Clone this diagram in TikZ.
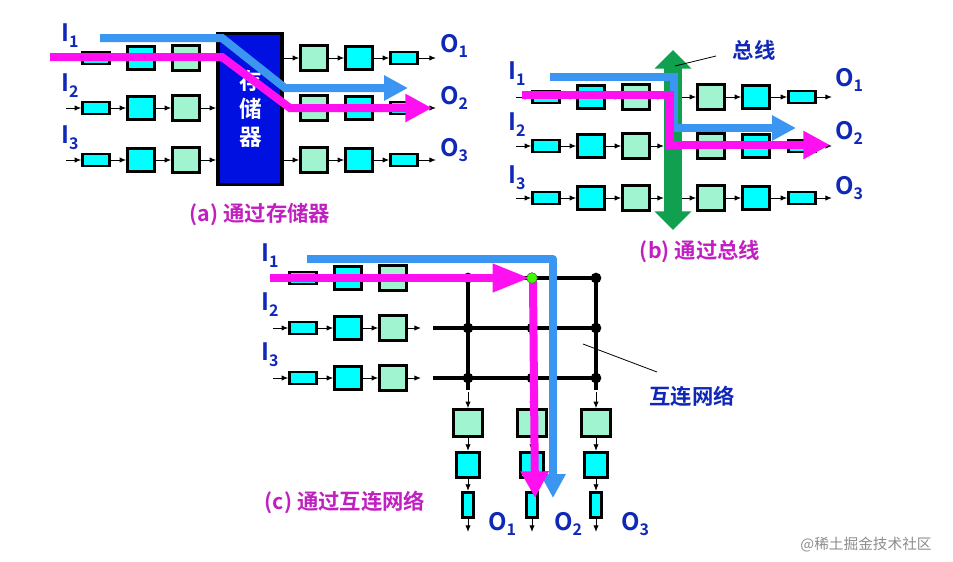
\documentclass[tikz,border=0pt]{standalone}
\usepackage{fontspec}
\setmainfont{Noto Sans CJK SC}[BoldFont={Noto Sans CJK SC Bold}]
\usetikzlibrary{arrows.meta}
\definecolor{cyb}{HTML}{00FFFF}
\definecolor{grb}{HTML}{A0F5D0}
\definecolor{bluA}{HTML}{3A96F0}
\definecolor{magA}{HTML}{FF10F0}
\definecolor{navy}{HTML}{1028B8}
\definecolor{capc}{HTML}{C020C0}
\definecolor{memb}{HTML}{0010E0}
\definecolor{busg}{HTML}{10A050}
\tikzset{
 bx/.style={draw=black,line width=2.1pt,inner sep=0pt},
 sm/.style={bx,fill=cyb,minimum width=20pt,minimum height=9pt},
 cy/.style={bx,fill=cyb,minimum width=20pt,minimum height=17pt},
 gr/.style={bx,fill=grb,minimum width=20pt,minimum height=19pt},
 vsm/.style={bx,fill=cyb,minimum width=8pt,minimum height=19pt},
 vcy/.style={bx,fill=cyb,minimum width=17pt,minimum height=19pt},
 vgr/.style={bx,fill=grb,minimum width=22pt,minimum height=20pt},
 ar/.style={-{Latex[length=5pt,width=4pt]},line width=0.7pt},
 lab/.style={text=navy,font=\bfseries\fontsize{18}{18}\selectfont},
 captxt/.style={text=capc,font=\bfseries\fontsize{16}{16}\selectfont},
 fat/.style={line width=6pt,line join=miter},
 bluarr/.style={fat,draw=bluA,-{Triangle[length=18pt,width=18pt]}},
 magarr/.style={fat,draw=magA,-{Triangle[length=20pt,width=20pt]}},
 grid/.style={line width=2.4pt},
 dot/.style={circle,fill=black,inner sep=0pt,minimum size=8pt}
}
\newcommand\subl[2]{#1\raisebox{-0.45ex}{\fontsize{12}{12}\selectfont #2}}
\newcommand\lchain[5]{%
 \node[sm] (#1s) at (#3,#2) {};
 \node[cy] (#1c) at (#4,#2) {};
 \node[gr] (#1g) at (#5,#2) {};
 \coordinate (#1i) at (#3-30,#2);
 \draw[ar] (#1i) -- (#1s); \draw[ar] (#1s) -- (#1c); \draw[ar] (#1c) -- (#1g);}
\newcommand\rchain[7]{%
 \node[gr] (#1g) at (#3,#2) {};
 \node[cy] (#1c) at (#4,#2) {};
 \node[sm] (#1s) at (#5,#2) {};
 \coordinate (#1b) at (#6,#2); \coordinate (#1e) at (#7,#2);
 \draw[ar] (#1b) -- (#1g); \draw[ar] (#1g) -- (#1c); \draw[ar] (#1c) -- (#1s); \draw[ar] (#1s) -- (#1e);}
\newcommand\vchain[2]{%
 \coordinate (#1t) at (#2,392);
 \node[vgr] (#1g) at (#2,423) {};
 \node[vcy] (#1c) at (#2,465) {};
 \node[vsm] (#1s) at (#2,505) {};
 \coordinate (#1e) at (#2,532);
 \draw[ar] (#1t) -- (#1g); \draw[ar] (#1g) -- (#1c); \draw[ar] (#1c) -- (#1s); \draw[ar] (#1s) -- (#1e);}
\begin{document}
\begin{tikzpicture}[x=0.75pt,y=-0.75pt]
\useasboundingbox (0,0) rectangle (953,561);
% ---------- (a)
\node[fill=memb,draw=black,line width=2.6pt,minimum width=48pt,minimum height=113pt,inner sep=0pt] (mem) at (250,109) {};
\node[text=white,font=\bfseries\fontsize{17}{21}\selectfont,align=center] (memt) at (251,109) {存\\储\\器};
\lchain{aa}{58}{96}{141}{186}
\lchain{ab}{108}{96}{141}{186}
\lchain{ac}{160}{96}{141}{186}
\foreach \r in {aa,ab,ac}{\draw[ar] (\r g) -- (\r g -| mem.west);}
\rchain{ra}{58}{314}{359}{404}{284}{436}
\rchain{rb}{108}{314}{359}{404}{284}{436}
\rchain{rc}{160}{314}{359}{404}{284}{436}
\node[lab] (aI1) at (70,36) {\subl{I}{1}};
\node[lab] (aI2) at (70,86) {\subl{I}{2}};
\node[lab] (aI3) at (70,138) {\subl{I}{3}};
\node[lab] (aO1) at (454,46) {\subl{O}{1}};
\node[lab] (aO2) at (454,98) {\subl{O}{2}};
\node[lab] (aO3) at (454,150) {\subl{O}{3}};
\coordinate (ab1) at (100,38); \coordinate (ab2) at (222,38); \coordinate (ab3) at (285,88); \coordinate (ab4) at (408,88);
\draw[bluarr] (ab1) -- (ab2) -- (ab3) -- (ab4);
\coordinate (am1) at (50,57); \coordinate (am2) at (222,57); \coordinate (am3) at (290,108); \coordinate (am4) at (432,108);
\draw[magarr] (am1) -- (am2) -- (am3) -- (am4);
\node[captxt] (acap) at (260,215) {(a) 通过存储器};
% ---------- (b)
\coordinate (busT) at (673,50); \coordinate (busB) at (673,230);
\draw[busg,line width=13pt,{Triangle[length=14pt,width=27pt]}-{Triangle[length=14pt,width=27pt]}] (busT) -- (busB);
\lchain{ba}{97}{546}{591}{636}
\lchain{bb}{146}{546}{591}{636}
\lchain{bc}{198}{546}{591}{636}
\foreach \r in {ba,bb,bc}{\draw[ar] (\r g) -- ++(28,0) coordinate (\r x);}
\rchain{sa}{97}{711}{756}{802}{682}{832}
\rchain{sb}{146}{711}{756}{802}{682}{832}
\rchain{sc}{198}{711}{756}{802}{682}{832}
\node[lab] (bI1) at (517,74) {\subl{I}{1}};
\node[lab] (bI2) at (517,125) {\subl{I}{2}};
\node[lab] (bI3) at (517,178) {\subl{I}{3}};
\node[lab] (bO1) at (849,80) {\subl{O}{1}};
\node[lab] (bO2) at (849,133) {\subl{O}{2}};
\node[lab] (bO3) at (849,188) {\subl{O}{3}};
\node[lab,font=\bfseries\fontsize{16}{16}\selectfont] (zx) at (754,50) {总线};
\coordinate (zxp) at (716,56);
\coordinate (zxe) at (675,66);
\draw[line width=0.6pt] (zxp) -- (zxe);
\coordinate (bb1) at (550,77); \coordinate (bb2) at (674,77); \coordinate (bb3) at (674,128); \coordinate (bb4) at (796,128);
\draw[bluarr] (bb1) -- (bb2) -- (bb3) -- (bb4);
\coordinate (bm1) at (522,95); \coordinate (bm2) at (670,95); \coordinate (bm3) at (670,145); \coordinate (bm4) at (830,145);
\draw[magarr] (bm1) -- (bm2) -- (bm3) -- (bm4);
\node[captxt] (bcap) at (700,252) {(b) 通过总线};
% ---------- (c)
\lchain{ca}{278}{303}{348}{393}
\lchain{cb}{328}{303}{348}{393}
\lchain{cc}{378}{303}{348}{393}
\foreach \r in {ca,cb,cc}{\draw[ar] (\r g) -- ++(28,0) coordinate (\r x);}
\coordinate (h1a) at (433,278); \coordinate (h1b) at (596,278);
\coordinate (h2a) at (433,328); \coordinate (h2b) at (596,328);
\coordinate (h3a) at (433,378); \coordinate (h3b) at (596,378);
\draw[grid] (h1a) -- (h1b); \draw[grid] (h2a) -- (h2b); \draw[grid] (h3a) -- (h3b);
\coordinate (v1a) at (468,278); \coordinate (v1b) at (468,390);
\coordinate (v2a) at (532,278); \coordinate (v2b) at (532,390);
\coordinate (v3a) at (596,278); \coordinate (v3b) at (596,390);
\draw[grid] (v1a) -- (v1b); \draw[grid] (v2a) -- (v2b); \draw[grid] (v3a) -- (v3b);
\foreach \x/\n in {468/1,532/2,596/3}{\foreach \y/\m in {278/1,328/2,378/3}{\node[dot] (d\n\m) at (\x,\y) {};}}
\vchain{va}{468}
\vchain{vb}{532}
\vchain{vc}{596}
\node[lab] (cI1) at (270,256) {\subl{I}{1}};
\node[lab] (cI2) at (270,305) {\subl{I}{2}};
\node[lab] (cI3) at (270,355) {\subl{I}{3}};
\node[lab] (cO1) at (502,524) {\subl{O}{1}};
\node[lab] (cO2) at (568,524) {\subl{O}{2}};
\node[lab] (cO3) at (635,524) {\subl{O}{3}};
\coordinate (cb1) at (307,259); \coordinate (cb2) at (553,259); \coordinate (cb3) at (553,498);
\draw[bluarr,line join=round] (cb1) -- (cb2) -- (cb3);
\coordinate (cm1) at (270,278); \coordinate (cm2) at (530,278);
\draw[magarr,-{Triangle[length=28pt,width=20pt]}] (cm1) -- (cm2);
\coordinate (cm3) at (533,281); \coordinate (cm4) at (535,498);
\draw[magarr] (cm3) -- (cm4);
\node[circle,fill=green!70!lime,draw=black!60,line width=0.4pt,inner sep=0pt,minimum size=8pt] (gd) at (532,278) {};
\node[lab,font=\bfseries\fontsize{16}{16}\selectfont] (hl) at (692,396) {互连网络};
\coordinate (hla) at (583,344); \coordinate (hlb) at (657,372);
\draw[line width=0.6pt] (hla) -- (hlb);
\node[captxt] (ccap) at (345,502) {(c) 通过互连网络};
\node[text=black!45,font=\fontsize{11}{11}\selectfont] (wm) at (866,545) {@稀土掘金技术社区};
\end{tikzpicture}
\end{document}
